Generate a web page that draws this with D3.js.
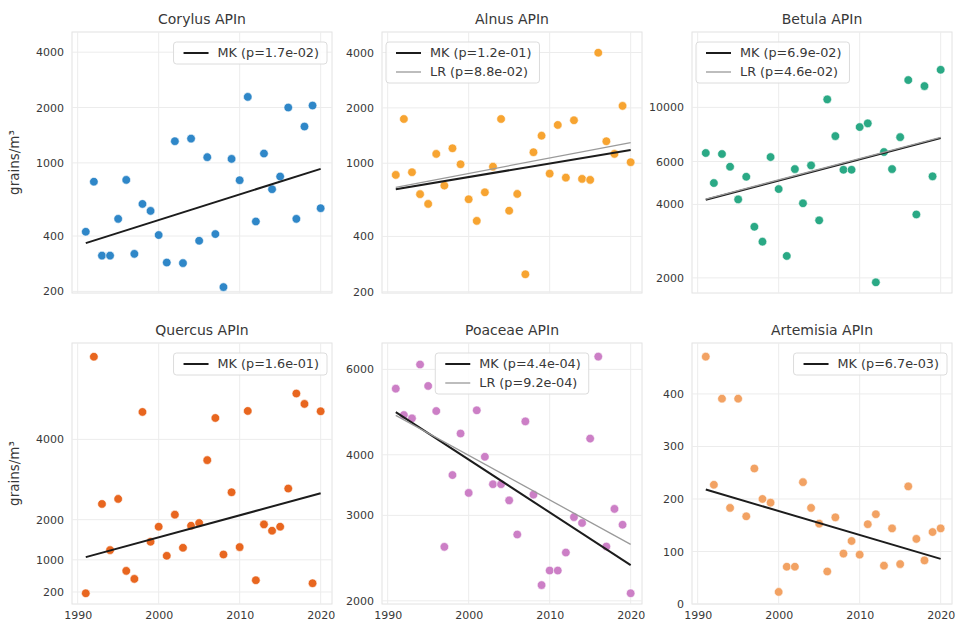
<!DOCTYPE html>
<html>
<head>
<meta charset="utf-8">
<script src="https://cdn.jsdelivr.net/npm/d3@7"></script>
<style>
body{margin:0;background:#fff;}
svg{font-family:"DejaVu Sans",sans-serif;}
</style>
</head>
<body>
<svg id="chart"></svg>
<script>
var years = [1991,1992,1993,1994,1995,1996,1997,1998,1999,2000,2001,2002,2003,2004,2005,
             2006,2007,2008,2009,2010,2011,2012,2013,2014,2015,2016,2017,2018,2019,2020]
var xTicks = [1990,2000,2010,2020]

var coryValues = [422,790,313,313,496,808,320,598,548,405,287,1312,285,1355,377,
                  1074,410,211,1051,805,2285,480,1124,719,843,2000,496,1576,2050,567]
var coryMK = [366,928]
var coryTicks = [200,400,1000,2000,4000]

var alnusValues = [864,1740,894,679,601,1124,756,1206,987,637,486,695,958,1740,552,
                   681,249,1148,1412,878,1615,835,1713,822,812,3990,1317,1124,2050,1013]
var alnusMK = [722,1181]
var alnusLR = [740,1294]
var alnusTicks = [200,400,1000,2000,4000]

var betulaValues = [6500,4895,6440,5710,4195,5195,3240,2815,6255,4625,2460,5585,4045,5785,3443,
                    10785,7625,5550,5550,8305,8600,1918,6560,5585,7550,12940,3640,12225,5215,14260]
var betulaMK = [4180,7480]
var betulaLR = [4210,7540]
var betulaTicks = [2000,4000,6000,10000]

var quercusValues = [167,6058,2392,1242,2517,725,525,4683,1450,1825,1100,2125,1300,1850,1917,
                     3483,4533,1133,2683,1317,4708,492,1883,1725,1825,2775,5142,4883,417,4700]
var quercusMK = [1067,2658]
var quercusTicks = [200,1000,2000,4000]

var poaceaeValues = [5475,4830,4755,6140,5546,4923,2584,3633,4425,3338,4940,3962,3479,3479,3222,
                     2740,4687,3311,2155,2309,2309,2515,2976,2894,4320,6375,2588,3094,2870,2073]
var poaceaeMK = [4898,2369]
var poaceaeLR = [4824,2614]
var poaceaeTicks = [2000,3000,4000,6000]

var artemisiaValues = [471,227,391,183,391,167,258,200,193,23,71,71,232,183,153,
                       62,165,96,120,94,152,171,73,144,76,224,124,83,137,144]
var artemisiaMK = [218,86]
var artemisiaTicks = [0,100,200,300,400]


var screen = {width:956,height:625}
var plotLeft = [72,382,692]
var plotTop = [32,343]
var plotW = 260
var plotH = 261

var panels = [
    {title:"Corylus APIn", values:coryValues, mk:coryMK, lr:null, mkText:"MK (p=1.7e-02)",
     ticks:coryTicks, log:true, domain:[196,5150], color:"#2f87c8", col:0, row:0, legend:"right"},
    {title:"Alnus APIn", values:alnusValues, mk:alnusMK, lr:alnusLR, mkText:"MK (p=1.2e-01)", lrText:"LR (p=8.8e-02)",
     ticks:alnusTicks, log:true, domain:[197,5170], color:"#f7a431", col:1, row:0, legend:"left"},
    {title:"Betula APIn", values:betulaValues, mk:betulaMK, lr:betulaLR, mkText:"MK (p=6.9e-02)", lrText:"LR (p=4.6e-02)",
     ticks:betulaTicks, log:true, domain:[1734,20370], color:"#2aa985", col:2, row:0, legend:"left"},
    {title:"Quercus APIn", values:quercusValues, mk:quercusMK, lr:null, mkText:"MK (p=1.6e-01)",
     ticks:quercusTicks, log:false, domain:[-100,6400], color:"#e8661f", col:0, row:1, legend:"right"},
    {title:"Poaceae APIn", values:poaceaeValues, mk:poaceaeMK, lr:poaceaeLR, mkText:"MK (p=4.4e-04)", lrText:"LR (p=9.2e-04)",
     ticks:poaceaeTicks, log:true, domain:[1970,6800], color:"#cc7fc6", col:1, row:1, legend:"center"},
    {title:"Artemisia APIn", values:artemisiaValues, mk:artemisiaMK, lr:null, mkText:"MK (p=6.7e-03)",
     ticks:artemisiaTicks, log:false, domain:[0,497], color:"#f2a263", col:2, row:1, legend:"right"}
]

var svg = d3.select("#chart")
            .attr("width",screen.width)
            .attr("height",screen.height)

var xScale = d3.scaleLinear()
               .domain([1989.3,2021.4])
               .range([0,plotW])

var drawPanel = function(p)
{
    var g = svg.append("g")
               .attr("transform","translate("+plotLeft[p.col]+","+plotTop[p.row]+")")

    var yScale = (p.log ? d3.scaleLog() : d3.scaleLinear())
                   .domain(p.domain)
                   .range([plotH,0])

    g.append("rect")
     .attr("width",plotW)
     .attr("height",plotH)
     .attr("fill","#fff")
     .attr("stroke","#e2e2e2")

    g.selectAll(".vgrid")
     .data(xTicks)
     .enter()
     .append("line")
     .attr("x1",function(d){return xScale(d)})
     .attr("x2",function(d){return xScale(d)})
     .attr("y1",0)
     .attr("y2",plotH)
     .attr("stroke","#ececec")

    g.selectAll(".hgrid")
     .data(p.ticks)
     .enter()
     .append("line")
     .attr("x1",0)
     .attr("x2",plotW)
     .attr("y1",function(d){return yScale(d)})
     .attr("y2",function(d){return yScale(d)})
     .attr("stroke","#ececec")

    var yAxis = d3.axisLeft(yScale)
                  .tickValues(p.ticks)
                  .tickSize(0)
                  .tickPadding(8)
                  .tickFormat(d3.format("d"))
    var ya = g.append("g").call(yAxis)
    ya.select(".domain").remove()
    ya.selectAll("text")
      .attr("fill","#383838")
      .style("font-size","11px")
      .style("font-family","DejaVu Sans")

    if(p.row == 1)
    {
        var xAxis = d3.axisBottom(xScale)
                      .tickValues(xTicks)
                      .tickSize(0)
                      .tickPadding(7)
                      .tickFormat(d3.format("d"))
        var xa = g.append("g")
                  .attr("transform","translate(0,"+plotH+")")
                  .call(xAxis)
        xa.select(".domain").remove()
        xa.selectAll("text")
          .attr("fill","#383838")
          .style("font-size","11px")
          .style("font-family","DejaVu Sans")
    }

    g.append("text")
     .attr("x",plotW/2)
     .attr("y",-8)
     .attr("text-anchor","middle")
     .attr("fill","#383838")
     .style("font-size","14px")
     .text(p.title)

    if(p.col == 0)
    {
        g.append("text")
         .attr("transform","translate(-53,"+(plotH/2)+") rotate(-90)")
         .attr("text-anchor","middle")
         .attr("fill","#383838")
         .style("font-size","13.5px")
         .text("grains/m³")
    }

    g.selectAll("circle")
     .data(p.values)
     .enter()
     .append("circle")
     .attr("cx",function(d,i){return xScale(years[i])})
     .attr("cy",function(d){return yScale(d)})
     .attr("r",4.3)
     .attr("fill",p.color)
     .attr("stroke","#fff")
     .attr("stroke-width",0.6)

    var ends = [years[0],years[years.length-1]]
    var lineGenerator = d3.line()
                          .x(function(d,i){return xScale(ends[i])})
                          .y(function(d){return yScale(d)})

    g.append("path")
     .datum(p.mk)
     .attr("d",lineGenerator)
     .attr("fill","none")
     .attr("stroke","#1c1c1c")
     .attr("stroke-width",2)

    if(p.lr)
    {
        g.append("path")
         .datum(p.lr)
         .attr("d",lineGenerator)
         .attr("fill","none")
         .attr("stroke","#9a9a9a")
         .attr("stroke-width",1.3)
    }

    drawLegend(g,p)
}

var drawLegend = function(g,p)
{
    var items = [{text:p.mkText, color:"#1c1c1c", width:2}]
    if(p.lr){ items.push({text:p.lrText, color:"#9a9a9a", width:1.3}) }

    var lg = g.append("g")
    var box = lg.append("rect")
                .attr("rx",3)
                .attr("fill","#fff")
                .attr("fill-opacity",0.85)
                .attr("stroke","#dcdcdc")

    var rows = lg.selectAll(".row")
                 .data(items)
                 .enter()
                 .append("g")
                 .attr("transform",function(d,i){return "translate(0,"+(11+i*19)+")"})
    rows.append("line")
        .attr("x1",10)
        .attr("x2",35)
        .attr("stroke",function(d){return d.color})
        .attr("stroke-width",function(d){return d.width})
    var texts = rows.append("text")
                    .attr("x",44)
                    .attr("dy","0.35em")
                    .attr("fill","#383838")
                    .style("font-size","12.8px")
                    .text(function(d){return d.text})

    var maxW = d3.max(texts.nodes(),function(n){return n.getComputedTextLength()})
    var w = 44+maxW+8
    var h = 22+19*(items.length-1)
    box.attr("width",w).attr("height",h)

    var bx = 4
    if(p.legend == "right"){ bx = plotW-5-w }
    if(p.legend == "center"){ bx = (plotW-w)/2 }
    lg.attr("transform","translate("+bx+",10)")
}

panels.forEach(drawPanel)
</script>
</body>
</html>
